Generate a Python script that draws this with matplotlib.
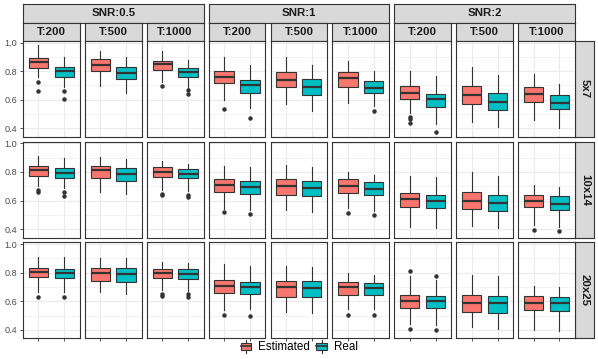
import matplotlib
matplotlib.use("Agg")
import matplotlib.pyplot as plt
from matplotlib.patches import Rectangle, Patch
from matplotlib.lines import Line2D
from matplotlib.legend_handler import HandlerBase

plt.rcParams['font.family'] = ['Liberation Sans', 'DejaVu Sans']

# ---------------- data ----------------
SNR_LABELS = ["SNR:0.5", "SNR:1", "SNR:2"]
T_LABELS = ["T:200", "T:500", "T:1000"]
ROW_LABELS = ["5x7", "10x14", "20x25"]
METHODS = ["Estimated", "Real"]
COLORS = ["#F8766D", "#00BFC4"]

# each row: 9 panels (SNR x T), order SNR0.5(T200,500,1000), SNR1(...), SNR2(...)
EST_HI = [[.984, .942, .944, .902, .897, .871, .804, .832, .782],
          [.910, .905, .880, .841, .852, .797, .774, .801, .707],
          [.907, .905, .872, .860, .847, .795, .779, .781, .705]]
EST_Q3 = [[.895, .883, .874, .801, .794, .794, .696, .698, .689],
          [.843, .843, .834, .753, .751, .748, .656, .658, .642],
          [.835, .835, .828, .747, .744, .735, .644, .642, .637]]
EST_MED = [[.862, .843, .850, .761, .740, .752, .649, .630, .637],
           [.815, .811, .799, .709, .702, .702, .612, .600, .596],
           [.807, .798, .798, .707, .698, .698, .602, .591, .591]]
EST_Q1 = [[.825, .801, .806, .717, .687, .691, .607, .567, .584],
          [.774, .755, .767, .663, .640, .656, .557, .543, .552],
          [.767, .742, .760, .660, .633, .647, .556, .523, .537]]
EST_LO = [[.757, .698, .725, .598, .567, .574, .509, .443, .457],
          [.704, .663, .677, .543, .536, .550, .418, .423, .427],
          [.667, .663, .677, .540, .523, .547, .440, .419, .402]]
EST_OUT = [[[.726, .658], [], [.698], [.532], [], [], [.481, .462, .434], [], []],
           [[.674, .658], [], [.647, .638], [.522], [], [.513], [], [], [.397]],
           [[.630], [], [.651, .635], [.505], [], [.505], [.812, .407], [], []]]

REAL_HI = [[.902, .902, .878, .841, .841, .801, .766, .771, .708],
           [.896, .894, .859, .838, .838, .781, .767, .774, .697],
           [.907, .902, .865, .849, .842, .786, .749, .774, .698]]
REAL_Q3 = [[.829, .832, .822, .738, .745, .731, .642, .644, .630],
           [.827, .829, .820, .739, .739, .727, .642, .640, .630],
           [.828, .830, .826, .737, .740, .730, .640, .640, .633]]
REAL_MED = [[.804, .789, .794, .705, .687, .684, .605, .586, .577],
            [.794, .785, .788, .697, .691, .684, .596, .580, .577],
            [.800, .788, .791, .700, .693, .691, .605, .586, .586]]
REAL_Q1 = [[.759, .745, .761, .649, .633, .649, .546, .525, .537],
           [.755, .739, .755, .649, .630, .637, .545, .524, .533],
           [.760, .737, .756, .651, .628, .644, .551, .516, .535]]
REAL_LO = [[.687, .649, .684, .544, .523, .556, .429, .406, .404],
           [.688, .649, .667, .531, .520, .524, .406, .411, .413],
           [.667, .651, .672, .547, .521, .547, .435, .409, .395]]
REAL_OUT = [[[.663, .602], [], [.668, .642], [.474], [], [.518], [.371], [], []],
            [[.658, .630], [], [.638, .626], [.506], [], [.497], [], [], [.390]],
            [[.628], [], [.651, .633], [.500], [], [.505], [.774, .402], [], []]]

Y_TICKS = [0.4, 0.6, 0.8, 1.0]
Y_TICK_LABELS = ["0.4", "0.6", "0.8", "1.0"]
Y_MINOR = [0.5, 0.7, 0.9]

# ---------------- layout ----------------
W, H = 598, 359
fig = plt.figure(figsize=(W / 100, H / 100), dpi=100)

def rect(left, top, width, height):
    return [left / W, 1 - (top + height) / H, width / W, height / H]

LEFT0, PITCH_X, PW = 22.9, 61.9, 56.8
TOP0, PITCH_Y, PH = 40.7, 100.8, 96.0
STRIP_BG = "#D9D9D9"
EDGE = "#333333"
STRIP_FS = 8.2

def strip(left, top, width, height, text, rotation=0):
    a = fig.add_axes(rect(left, top, width, height))
    a.set_facecolor(STRIP_BG)
    a.set_xticks([]); a.set_yticks([])
    for s in a.spines.values():
        s.set_color(EDGE); s.set_linewidth(0.8)
    a.text(0.5, 0.5, text, ha="center", va="center", rotation=rotation,
           fontsize=STRIP_FS, fontweight="bold", color="#1A1A1A",
           transform=a.transAxes)
    return a

# SNR strips
for g in range(3):
    l = LEFT0 + 3 * g * PITCH_X
    w = 2 * PITCH_X + PW
    strip(l, 4.2, w, 18.3, SNR_LABELS[g])
# T strips
for c in range(9):
    strip(LEFT0 + c * PITCH_X, 22.5, PW, 18.2, T_LABELS[c % 3])
# row strips
for r in range(3):
    strip(LEFT0 + 8 * PITCH_X + PW + 0.3, TOP0 + r * PITCH_Y, 19.2, PH,
          ROW_LABELS[r], rotation=-90)

for r in range(3):
    for c in range(9):
        ax = fig.add_axes(rect(LEFT0 + c * PITCH_X, TOP0 + r * PITCH_Y, PW, PH))
        ax.set_facecolor("white")
        stats = [
            dict(med=EST_MED[r][c], q1=EST_Q1[r][c], q3=EST_Q3[r][c],
                 whislo=EST_LO[r][c], whishi=EST_HI[r][c], fliers=EST_OUT[r][c]),
            dict(med=REAL_MED[r][c], q1=REAL_Q1[r][c], q3=REAL_Q3[r][c],
                 whislo=REAL_LO[r][c], whishi=REAL_HI[r][c], fliers=REAL_OUT[r][c]),
        ]
        bp = ax.bxp(stats, positions=[1, 2], widths=0.75, patch_artist=True,
                    showcaps=False,
                    boxprops=dict(edgecolor=EDGE, linewidth=0.8),
                    whiskerprops=dict(color=EDGE, linewidth=0.8),
                    medianprops=dict(color=EDGE, linewidth=1.6, solid_capstyle="butt"),
                    flierprops=dict(marker="o", markerfacecolor=EDGE,
                                    markeredgecolor=EDGE, markersize=2.2,
                                    linestyle="none"),
                    zorder=3)
        for patch, col in zip(bp["boxes"], COLORS):
            patch.set_facecolor(col)
        ax.set_xlim(0.4, 2.6)
        ax.set_ylim(0.341, 1.013)
        ax.set_yticks(Y_TICKS)
        ax.set_yticks(Y_MINOR, minor=True)
        ax.set_xticks([1, 2])
        ax.grid(True, which="major", color="#EBEBEB", linewidth=0.8, zorder=0)
        ax.grid(True, which="minor", axis="y", color="#EBEBEB", linewidth=0.4, zorder=0)
        ax.set_axisbelow(True)
        ax.tick_params(which="minor", length=0)
        if c == 0:
            ax.set_yticklabels(Y_TICK_LABELS)
            ax.tick_params(axis="y", length=2.5, width=0.6, color=EDGE,
                           labelsize=6.6, labelcolor="#4D4D4D", pad=1.5)
        else:
            ax.tick_params(axis="y", length=0, labelleft=False)
        if r == 2:
            ax.tick_params(axis="x", length=2.5, width=0.6, color=EDGE,
                           labelbottom=False)
        else:
            ax.tick_params(axis="x", length=0, labelbottom=False)
        for s in ax.spines.values():
            s.set_color(EDGE); s.set_linewidth(0.8)
            s.set_zorder(5)

# ---------------- legend ----------------
class BoxKey(HandlerBase):
    def create_artists(self, legend, orig_handle, xdescent, ydescent,
                       width, height, fontsize, trans):
        x0, y0 = -xdescent, -ydescent
        cx = x0 + width / 2
        arts = [
            Line2D([cx, cx], [y0 - 0.15 * height, y0 + 1.15 * height],
                   color=EDGE, lw=0.8, transform=trans),
            Rectangle((x0 + 0.05 * width, y0 + 0.1 * height), 0.9 * width, 0.8 * height,
                      facecolor=orig_handle.get_facecolor(), edgecolor=EDGE,
                      lw=0.8, transform=trans),
            Line2D([x0 + 0.05 * width, x0 + 0.95 * width], [y0 + height / 2] * 2,
                   color=EDGE, lw=1.2, transform=trans),
        ]
        return arts

handles = [Patch(facecolor=col, edgecolor=EDGE) for col in COLORS]
fig.legend(handles, METHODS, handler_map={Patch: BoxKey()},
           loc="center", bbox_to_anchor=(299 / W, 1 - 347.5 / H),
           ncol=2, frameon=False, fontsize=8.4, handlelength=1.0, handleheight=0.9,
           handletextpad=0.55, columnspacing=0.5, borderpad=0, borderaxespad=0)

fig.savefig("out.png", dpi=100, facecolor="white")
